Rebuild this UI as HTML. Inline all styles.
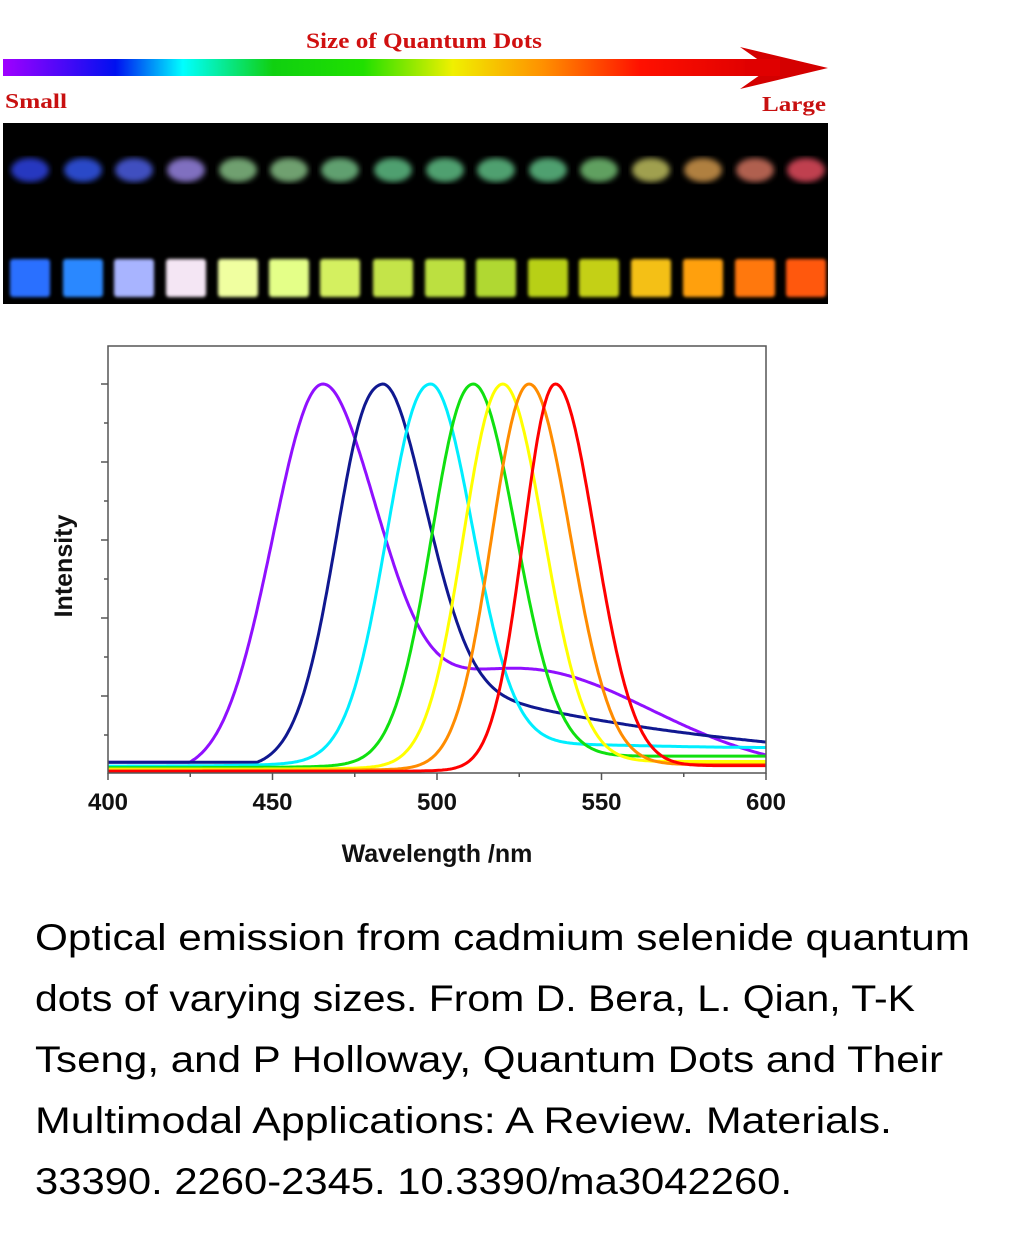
<!DOCTYPE html>
<html><head><meta charset="utf-8"><style>
html,body{margin:0;padding:0;background:#fff;}
svg{display:block;}
</style></head><body>
<svg id="s" width="1033" height="1235" viewBox="0 0 1033 1235" xmlns="http://www.w3.org/2000/svg">
<defs>
<linearGradient id="rb" x1="0" x2="1" y1="0" y2="0">
<stop offset="0" stop-color="#a000ff"/>
<stop offset="0.15" stop-color="#0010f0"/>
<stop offset="0.24" stop-color="#00ffff"/>
<stop offset="0.36" stop-color="#10d010"/>
<stop offset="0.48" stop-color="#20e000"/>
<stop offset="0.60" stop-color="#f0f000"/>
<stop offset="0.72" stop-color="#ff9000"/>
<stop offset="0.85" stop-color="#ff1000"/>
<stop offset="1" stop-color="#e00000"/>
</linearGradient>
<filter id="bl"><feGaussianBlur stdDeviation="3"/></filter>
<filter id="bl2"><feGaussianBlur stdDeviation="1.5"/></filter>
<clipPath id="ph"><rect x="3" y="123" width="825" height="181"/></clipPath>
</defs>
<text x="424" y="48" text-anchor="middle" font-family="Liberation Serif, serif" font-weight="bold" font-size="22" fill="#d01010" textLength="236" lengthAdjust="spacingAndGlyphs">Size of Quantum Dots</text>
<rect x="3" y="59" width="750" height="17" fill="url(#rb)"/>
<polygon points="740,47 828,68 740,89 770,68" fill="#d40000"/>
<polygon points="745,59 780,59 780,76 745,76" fill="#e00000"/>
<text x="5" y="108" font-family="Liberation Serif, serif" font-weight="bold" font-size="21" fill="#c81010" textLength="62" lengthAdjust="spacingAndGlyphs">Small</text>
<text x="826" y="111" text-anchor="end" font-family="Liberation Serif, serif" font-weight="bold" font-size="21" fill="#c81010" textLength="64" lengthAdjust="spacingAndGlyphs">Large</text>
<rect x="3" y="123" width="825" height="181" fill="#000"/>
<g id="vials" clip-path="url(#ph)"></g>
<g id="plot"></g>
<g font-family="Liberation Sans, sans-serif" font-size="37" fill="#000">
<text x="35" y="950" textLength="935" lengthAdjust="spacingAndGlyphs">Optical emission from cadmium selenide quantum</text>
<text x="35" y="1011" textLength="880" lengthAdjust="spacingAndGlyphs">dots of varying sizes.  From D. Bera, L. Qian, T-K</text>
<text x="35" y="1072" textLength="908" lengthAdjust="spacingAndGlyphs">Tseng, and P Holloway,  Quantum Dots and Their</text>
<text x="35" y="1133" textLength="857" lengthAdjust="spacingAndGlyphs">Multimodal Applications: A Review. Materials.</text>
<text x="35" y="1194" textLength="757" lengthAdjust="spacingAndGlyphs">33390. 2260-2345. 10.3390/ma3042260.</text>
</g>
</svg>
<script>
var NS="http://www.w3.org/2000/svg";
function el(t,a,p){var e=document.createElementNS(NS,t);for(var k in a)e.setAttribute(k,a[k]);p.appendChild(e);return e;}
var V=document.getElementById("vials");
var cx=[30,83,134,186,238,289,340,393,445,496,548,599,651,703,755,806];
var liq=["#2a70ff","#2a88ff","#a8b4ff","#f4e6f4","#f0ffa0","#e4ff88","#d4f060","#c4e448","#bce040","#b0d830","#b8d018","#c4d018","#f4c018","#ffa010","#ff7810","#ff5810"];
var cap=["#2838c0","#2a48c8","#4050c0","#8070c0","#70a070","#70a070","#60a070","#50a070","#50a070","#50a070","#50a070","#60a060","#a0a050","#b08040","#b06050","#c04050"];
var top=["#101830","#101830","#141830","#181828","#203020","#203020","#182818","#182818","#182818","#182818","#142414","#142414","#202010","#302010","#301810","#301818"];
for(var i=0;i<16;i++){var x=cx[i];
el("rect",{x:x-21,y:140,width:42,height:150,rx:4,fill:top[i],opacity:0.6},V);
el("ellipse",{cx:x,cy:170,rx:19,ry:12,fill:cap[i],filter:"url(#bl)"},V);
el("rect",{x:x-20,y:259,width:40,height:38,rx:3,fill:liq[i],filter:"url(#bl2)"},V);
}
var P=document.getElementById("plot");
function X(w){return 108+(w-400)*3.29;}
function Y(v){return 773-v*389;}
function g(w,c,sl,sr){var s=w<c?sl:sr;return Math.exp(-(w-c)*(w-c)/(2*s*s));}
function sig(z){return 1/(1+Math.exp(-z));}
function wing(w,c,k,s){return w<c? k*Math.exp((w-c)/s)*(1-g(w,c,6,6)) : 0;}
var curves=[
{c:"#9010ff",f:function(w){var m=g(w,465,15,16)+0.27*Math.exp(-(w-525)*(w-525)/3200)*sig((w-478)/5);return Math.max(0.028,m);}},
{c:"#101890",f:function(w){var m=g(w,483,12.5,13)+wing(w,483,0.14,18)+0.22*Math.exp(-(w-505)/95)*sig((w-497)/5);return Math.max(0.028,m);}},
{c:"#00eeff",f:function(w){return g(w,498,12.5,13)+wing(w,498,0.1,15)+0.06*sig((w-520)/6)-0.012*sig((w-560)/15)+0.018;}},
{c:"#10e010",f:function(w){return g(w,511,12,13)+wing(w,511,0.08,14)+0.03*sig((w-530)/6)+0.014;}},
{c:"#ffff00",f:function(w){return g(w,520,11.5,12.5)+wing(w,520,0.07,13)+0.02*sig((w-540)/6)+0.01;}},
{c:"#ff8c00",f:function(w){return g(w,528,11,12.5)+wing(w,528,0.06,12)+0.015*sig((w-545)/6)+0.007;}},
{c:"#ff0000",f:function(w){return g(w,536,9.5,12)+wing(w,536,0.05,11)+0.015*sig((w-555)/6)+0.004;}}
];
curves.forEach(function(cu){var mx=0,w;for(w=400;w<=600;w+=0.5)mx=Math.max(mx,cu.f(w));
var d="";for(w=400;w<=600;w+=0.5){d+=(w==400?"M":"L")+X(w).toFixed(1)+","+Y(cu.f(w)/mx).toFixed(1);}
el("path",{d:d,fill:"none",stroke:cu.c,"stroke-width":3},P);});
el("rect",{x:108,y:346,width:658,height:427,fill:"none",stroke:"#555","stroke-width":1.5},P);
for(var i=0;i<10;i++){var y=384+i*39;if(y>773)break;el("line",{x1:i%2?104:101,y1:y,x2:108,y2:y,stroke:"#555","stroke-width":1.5},P);}
for(var w=400;w<=600;w+=25){el("line",{x1:X(w),y1:773,x2:X(w),y2:w%50?777:780,stroke:"#555","stroke-width":1.5},P);}
for(var w=400;w<=600;w+=50){var t=el("text",{x:X(w),y:810,"text-anchor":"middle","font-family":"Liberation Sans, sans-serif","font-weight":"bold","font-size":"24",fill:"#111"},P);t.textContent=w;}
var t=el("text",{x:437,y:862,"text-anchor":"middle","font-family":"Liberation Sans, sans-serif","font-weight":"bold","font-size":"25",fill:"#111"},P);t.textContent="Wavelength /nm";
t=el("text",{x:0,y:0,"text-anchor":"middle","font-family":"Liberation Sans, sans-serif","font-weight":"bold","font-size":"25",fill:"#111",transform:"translate(72,566) rotate(-90)"},P);t.textContent="Intensity";
</script>
</body></html>
